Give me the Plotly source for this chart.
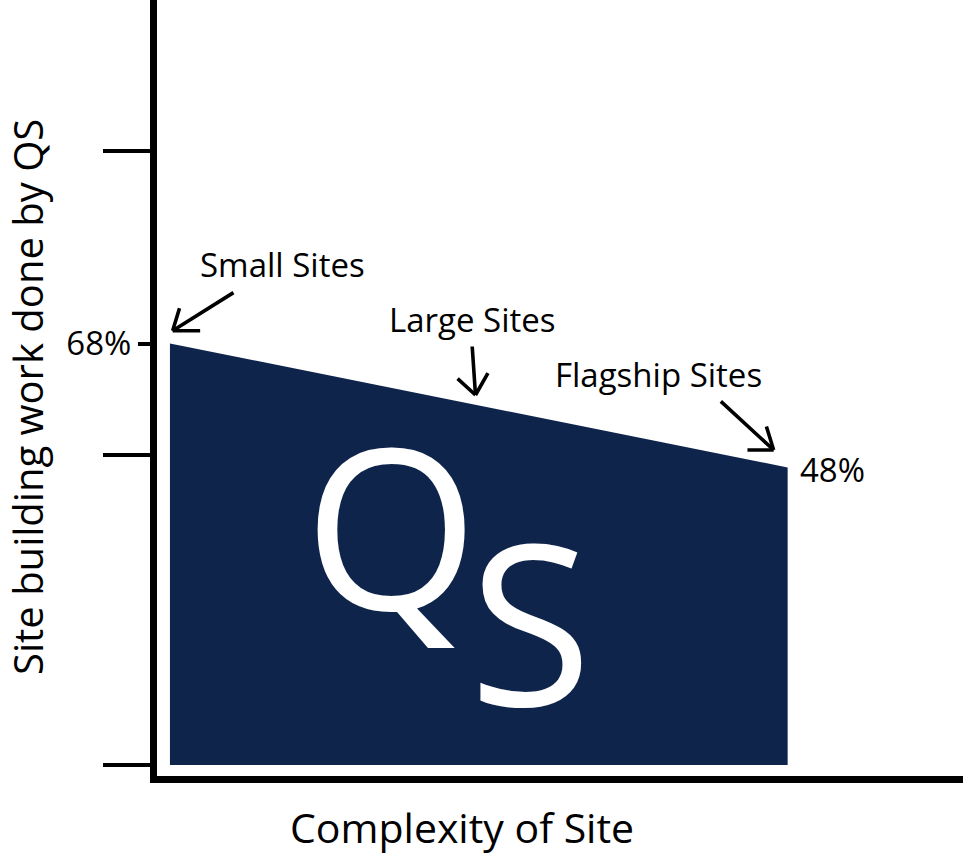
import plotly.graph_objects as go

# ---- data ----
categories = ["Small Sites", "Large Sites", "Flagship Sites"]
complexity = [0, 0.5, 1]
share = [68, 58, 48]
end_labels = ["68%", "48%"]
y_ticks = [0, 50, 99]
highlight_tick = [68]
highlight_tick_text = ["68%"]
x_title = "Complexity of Site"
y_title = "Site building work done by QS"
brand = ["Q", "S"]

NAVY = "#0e244b"
FONT = "Open Sans"
W, H = 963, 858
ML, MR, MT, MB = 157, 0, 0, 82
PW, PH = W - ML - MR, H - MT - MB

fig = go.Figure()
fig.add_trace(go.Scatter(
    x=complexity, y=share, mode="lines", fill="tozeroy",
    fillcolor=NAVY, line=dict(width=0, color=NAVY),
    hoverinfo="skip", showlegend=False))
fig.add_trace(go.Scatter(
    x=[complexity[0]], y=[share[0]], yaxis="y2", mode="markers",
    marker=dict(size=1, opacity=0), hoverinfo="skip", showlegend=False))

def px2paper(px, py):
    return (px - ML) / PW, (H - MB - py) / PH

ann = []
# category labels (anchored on data points)
label_shifts = [(112.5, 79.5), (-6, 86.5), (-129, 93.5)]
for cx, cy, name, (sx, sy) in zip(complexity, share, categories, label_shifts):
    ann.append(dict(x=cx, y=cy, xref="x", yref="y", text=name, showarrow=False,
                    xanchor="center", yanchor="middle", xshift=sx, yshift=sy,
                    font=dict(family=FONT, size=33, color="black")))
# end value label
ann.append(dict(x=complexity[-1], y=share[-1], xref="x", yref="y", text=end_labels[1],
                showarrow=False, xanchor="left", yanchor="middle", xshift=10, yshift=-1.5,
                font=dict(family=FONT, size=33, color="black")))

# arrows: (tip shift, shaft offset, leg1, leg2)
arrows = [
    ((2.7, 12.8), (62.3, -39), (29, 0), (7.3, -24)),
    ((-3.3, 10.5), (-3.4, -50), (-19.4, -17.7), (13.3, -23.3)),
    ((-14, 17.5), (-54.3, -50), (-27.7, 0), (-7.7, -25)),
]
for cx, cy, (tip, shaft, l1, l2) in zip(complexity, share, arrows):
    for (ax, ay) in (shaft, l1, l2):
        ann.append(dict(x=cx, y=cy, xref="x", yref="y", text="", showarrow=True,
                        arrowhead=0, arrowwidth=3.6, arrowcolor="black",
                        ax=ax, ay=ay, axref="pixel", ayref="pixel",
                        xshift=tip[0], yshift=tip[1], standoff=0, startstandoff=0))

# QS brand letters
qx, qy = px2paper(391, 523)
sx_, sy_ = px2paper(530, 619.5)
for (bx, by), letter in zip([(qx, qy), (sx_, sy_)], brand):
    ann.append(dict(x=bx, y=by, xref="paper", yref="paper", text=letter, showarrow=False,
                    xanchor="center", yanchor="middle",
                    font=dict(family=FONT, size=224, color="white")))

# axis titles
tx, ty = px2paper(461.5, 827)
ann.append(dict(x=tx, y=ty, xref="paper", yref="paper", text=x_title, showarrow=False,
                xanchor="center", yanchor="middle", borderpad=0,
                font=dict(family=FONT, size=41, color="black")))
vx, vy = px2paper(27.5, 397.5)
ann.append(dict(x=vx, y=vy, xref="paper", yref="paper", text=y_title, showarrow=False,
                xanchor="center", yanchor="middle", textangle=-90, borderpad=0,
                font=dict(family=FONT, size=40, color="black")))

fig.update_layout(
    width=W, height=H,
    margin=dict(l=ML, r=MR, t=MT, b=MB, pad=0),
    paper_bgcolor="white", plot_bgcolor="white",
    showlegend=False,
    xaxis=dict(range=[-13 / 620, 1 + 176 / 620], showgrid=False, zeroline=False,
               showline=True, linewidth=7, linecolor="black",
               ticks="", showticklabels=False, fixedrange=True),
    yaxis=dict(range=[68 - (PH - 343.5) / 6.2, 68 + 343.5 / 6.2], showgrid=False,
               zeroline=False, showline=True, linewidth=7, linecolor="black",
               tickmode="array", tickvals=y_ticks, ticks="outside", ticklen=47,
               tickwidth=3.5, tickcolor="black", showticklabels=False, fixedrange=True),
    yaxis2=dict(overlaying="y", side="left", anchor="x",
                range=[68 - (PH - 343.5) / 6.2, 68 + 343.5 / 6.2], showgrid=False,
                zeroline=False, showline=True, linewidth=7, linecolor="black",
                tickmode="array", tickvals=highlight_tick, ticktext=highlight_tick_text,
                ticks="outside", ticklen=12, tickwidth=3.5, tickcolor="black",
                tickfont=dict(family=FONT, size=33, color="black"), fixedrange=True),
    annotations=ann,
)

fig.write_html("out.html", config={"displayModeBar": False})
